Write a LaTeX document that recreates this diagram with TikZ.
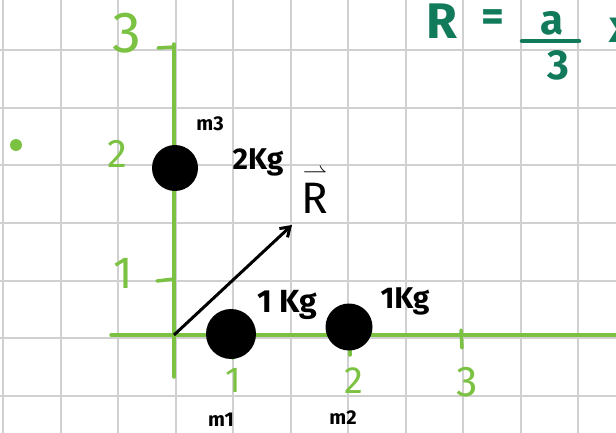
\documentclass[tikz,border=0pt]{standalone}
\usepackage{fontspec}
\setmainfont{Fira Sans}
\usepackage{amsmath}
\usetikzlibrary{arrows.meta}
\definecolor{axgreen}{HTML}{7CC242}
\definecolor{teal}{HTML}{117A5A}
\definecolor{gridgray}{HTML}{D0D0D0}
\tikzset{
  gridline/.style={draw=gridgray, line width=2pt},
  axis/.style={draw=axgreen, line width=3.5pt, line cap=round},
  glabel/.style={text=axgreen, inner sep=0pt, font=\fontsize{36}{36}\selectfont},
  blabel/.style={text=black, inner sep=0pt, font=\bfseries\fontsize{26}{26}\selectfont},
  mlabel/.style={text=black, inner sep=0pt, font=\bfseries\fontsize{20}{20}\selectfont},
  tlabel/.style={text=teal, inner sep=0pt, font=\bfseries\fontsize{48}{48}\selectfont},
  mass/.style={circle, fill=black, inner sep=0pt, minimum size=45pt},
}
\begin{document}
\begin{tikzpicture}[x=1pt,y=-1pt]
\useasboundingbox[fill=white] (0,0) rectangle (616,433);
% grid
\foreach \i in {0,...,10} {\draw[gridline] ({3+57.5*\i},0) -- ({3+57.5*\i},433);}
\foreach \j in {1,...,7} {\draw[gridline] (0,{-7+57.5*\j}) -- (616,{-7+57.5*\j});}
% axes
\coordinate (O) at (174,335);
\coordinate (ytop) at (174,44);
\coordinate (ybot) at (174,377);
\coordinate (xl) at (111,335);
\coordinate (xr) at (616,335);
\draw[axis] (ytop) -- (ybot);
\draw[axis] (xl) -- (xr);
% ticks
\coordinate (t3a) at (158,48); \coordinate (t3b) at (174,47);
\draw[axis] (t3a) -- (t3b);
\coordinate (t1a) at (157,281); \coordinate (t1b) at (174,279);
\draw[axis] (t1a) -- (t1b);
\coordinate (tx1a) at (233,340); \coordinate (tx1b) at (233,358);
\draw[axis] (tx1a) -- (tx1b);
\coordinate (tx2a) at (350,346); \coordinate (tx2b) at (350,355);
\draw[axis] (tx2a) -- (tx2b);
\coordinate (tx3a) at (461,330); \coordinate (tx3b) at (462,348);
\draw[axis] (tx3a) -- (tx3b);
% axis labels
\node[glabel, font=\fontsize{58}{58}\selectfont] (ly3) at (127,33) {3};
\node[glabel, font=\fontsize{40}{40}\selectfont] (ly2) at (117,154) {2};
\node[glabel, font=\fontsize{45}{45}\selectfont] (ly1) at (123,273) {1};
\node[glabel] (lx1) at (233,380) {1};
\node[glabel, font=\fontsize{38}{38}\selectfont] (lx2) at (354,381) {2};
\node[glabel, font=\fontsize{43}{43}\selectfont] (lx3) at (467,382) {3};
% green dot
\node[circle, fill=axgreen, inner sep=0pt, minimum size=12pt] (gdot) at (16,145) {};
% masses
\node[mass, minimum size=46pt] (m3) at (175,168) {};
\node[mass, minimum size=50pt] (m1) at (231,334) {};
\node[mass, minimum size=47pt] (m2) at (349,327) {};
% labels
\node[mlabel] (m3l) at (210,124) {m3};
\node[mlabel] (m1l) at (221,420) {m1};
\node[mlabel] (m2l) at (343,418) {m2};
\node[blabel, font=\bfseries\fontsize{30}{30}\selectfont] (k3) at (258,162) {2Kg};
\node[blabel, font=\bfseries\fontsize{32}{32}\selectfont] (k1) at (287,305) {1 Kg};
\node[blabel, font=\bfseries\fontsize{30}{30}\selectfont] (k2) at (405,301) {1Kg};
\node[blabel, font=\fontsize{44}{44}\selectfont] (Rv) at (315,190) {$\overset{\rightharpoonup}{\text{R}}$};
% arrow
\coordinate (Rtip) at (292,225);
\draw[line width=3pt, -{Straight Barb[length=9pt,width=12pt]}] (O) -- (Rtip);
% formula
\node[tlabel, font=\bfseries\fontsize{50}{50}\selectfont] (fR) at (442,21) {R};
\node[tlabel, font=\bfseries\fontsize{44}{44}\selectfont] (feq) at (493,21) {=};
\node[tlabel, font=\bfseries\fontsize{42}{42}\selectfont] (fa) at (552,23) {a};
\coordinate (barl) at (522,41); \coordinate (barr) at (579,41);
\draw[draw=teal, line width=4.5pt, line cap=round] (barl) -- (barr);
\node[tlabel, font=\bfseries\fontsize{42}{42}\selectfont] (f3) at (558,65) {3};
\node[tlabel, font=\bfseries\fontsize{46}{46}\selectfont] (fx) at (621,30) {x};
\end{tikzpicture}
\end{document}
